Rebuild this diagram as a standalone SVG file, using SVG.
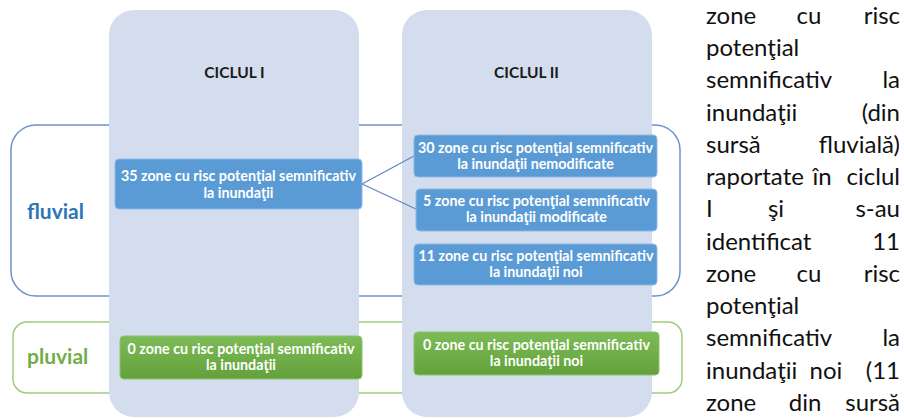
<svg xmlns="http://www.w3.org/2000/svg" width="904" height="419" viewBox="0 0 904 419">
<defs>
<linearGradient id="gGreen" x1="0" y1="0" x2="0" y2="1">
<stop offset="0" stop-color="#7cbb57"/>
<stop offset="1" stop-color="#62a13a"/>
</linearGradient>
<style>
.col{fill:#d3ddee;}
.frameF{fill:none;stroke:#6f90cf;stroke-width:1.5;}
.frameP{fill:none;stroke:#9dcc7e;stroke-width:1.5;}
.hdr{font-family:Lato,"Open Sans",sans-serif;font-weight:bold;font-size:15.5px;fill:#1a1a1a;text-anchor:middle;}
.bb{fill:#5b9bd5;stroke:#8db8e4;stroke-width:1;}
.gb{fill:url(#gGreen);stroke:#8cc26c;stroke-width:1;}
.bt{font-family:Lato,"Open Sans",sans-serif;font-weight:bold;font-size:14.3px;fill:#ffffff;text-anchor:middle;}
.lab{font-family:Lato,"Open Sans",sans-serif;font-weight:bold;font-size:21px;}
.conn{stroke:#5f86bf;stroke-width:1.2;fill:none;}
.para{font-family:Lato,"Open Sans",sans-serif;font-size:24px;fill:#111111;}
.e{text-anchor:end;}
.m{text-anchor:middle;}
</style>
</defs>
<rect width="904" height="419" fill="#ffffff"/>

<!-- row frames (behind columns) -->
<g id="row-fluvial">
<rect class="frameF" x="11" y="125" width="669" height="171" rx="25"/>
<text class="lab" x="27" y="219" fill="#2e75b6">fluvial</text>
</g>
<g id="row-pluvial">
<rect class="frameP" x="13" y="322" width="669" height="71" rx="14"/>
<text class="lab" x="27" y="364" fill="#70ad47">pluvial</text>
</g>

<!-- columns -->
<g id="ciclul-1">
<rect class="col" x="109" y="10" width="250" height="407" rx="25"/>
<text class="hdr" x="234.5" y="78">CICLUL I</text>
</g>
<g id="ciclul-2">
<rect class="col" x="402" y="10" width="250" height="407" rx="25"/>
<text class="hdr" x="526.5" y="78">CICLUL II</text>
</g>

<!-- connectors -->
<g id="connectors">
<line class="conn" x1="362" y1="184" x2="414" y2="156"/>
<line class="conn" x1="362" y1="184" x2="416" y2="209"/>
</g>

<g id="c1-fluvial">
<rect class="bb" x="115" y="159" width="247" height="50" rx="4"/>
<text class="bt" x="238.5" y="181">35 zone cu risc potenţial semnificativ</text>
<text class="bt" x="238.5" y="198">la inundaţii</text>
</g>
<g id="c2-nemodificate">
<rect class="bb" x="414" y="135" width="243" height="42" rx="4"/>
<text class="bt" x="535.5" y="153">30 zone cu risc potenţial semnificativ</text>
<text class="bt" x="535.5" y="169">la inundaţii nemodificate</text>
</g>
<g id="c2-modificate">
<rect class="bb" x="416" y="189" width="241" height="42" rx="4"/>
<text class="bt" x="536.5" y="206">5 zone cu risc potenţial semnificativ</text>
<text class="bt" x="536.5" y="222">la inundaţii modificate</text>
</g>
<g id="c2-noi">
<rect class="bb" x="414" y="244" width="243" height="41" rx="4"/>
<text class="bt" x="536" y="261">11 zone cu risc potenţial semnificativ</text>
<text class="bt" x="536" y="277">la inundaţii noi</text>
</g>
<g id="c1-pluvial">
<rect class="gb" x="120" y="336" width="242" height="43" rx="4"/>
<text class="bt" x="241" y="354">0 zone cu risc potenţial semnificativ</text>
<text class="bt" x="241" y="370">la inundaţii</text>
</g>
<g id="c2-pluvial">
<rect class="gb" x="414" y="332" width="245" height="43" rx="4"/>
<text class="bt" x="536.5" y="350">0 zone cu risc potenţial semnificativ</text>
<text class="bt" x="536.5" y="366">la inundaţii noi</text>
</g>

<!-- justified paragraph on the right -->
<g id="paragraph" class="para">
<text x="706" y="24">zone</text><text class="m" x="809" y="24">cu</text><text class="e" x="900" y="24">risc</text>
<text x="706" y="56">potenţial</text>
<text x="706" y="88">semnificativ</text><text class="e" x="900" y="88">la</text>
<text x="706" y="121">inundaţii</text><text class="e" x="900" y="121">(din</text>
<text x="706" y="153">sursă</text><text class="e" x="900" y="153">fluvială)</text>
<text x="706" y="185">raportate</text><text class="m" x="822" y="185">în</text><text class="e" x="900" y="185">ciclul</text>
<text x="706" y="217">I</text><text class="m" x="776" y="217">şi</text><text class="e" x="900" y="217">s-au</text>
<text x="706" y="250">identificat</text><text class="e" x="900" y="250">11</text>
<text x="706" y="282">zone</text><text class="m" x="809" y="282">cu</text><text class="e" x="900" y="282">risc</text>
<text x="706" y="314">potenţial</text>
<text x="706" y="346">semnificativ</text><text class="e" x="900" y="346">la</text>
<text x="706" y="379">inundaţii</text><text class="m" x="826" y="379">noi</text><text class="e" x="900" y="379">(11</text>
<text x="706" y="411">zone</text><text class="m" x="805" y="411">din</text><text class="e" x="900" y="411">sursă</text>
</g>
</svg>
